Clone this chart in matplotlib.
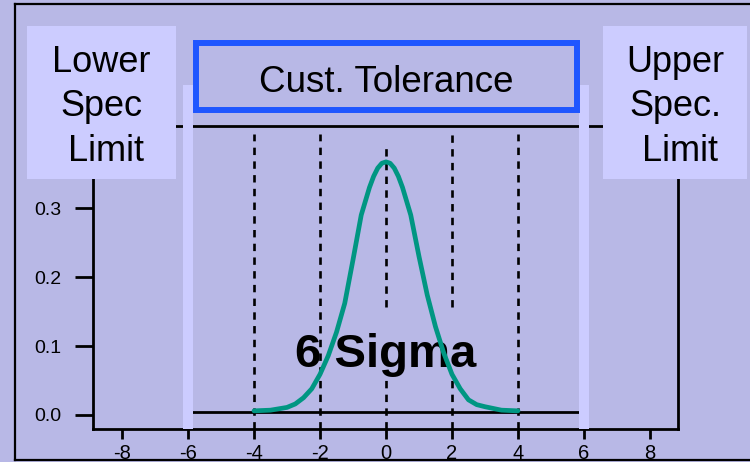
import matplotlib
matplotlib.use("Agg")
import matplotlib.pyplot as plt
from matplotlib.patches import Rectangle
from matplotlib.lines import Line2D

# curve
curve_x = [-4.0, -3.5, -3.0, -2.75, -2.5, -2.25, -2.0, -1.75, -1.5, -1.25, -1.0,
           -0.75, -0.5, -0.375, -0.25, -0.125, 0.0, 0.125, 0.25, 0.375, 0.5, 0.75,
           1.0, 1.25, 1.5, 1.75, 2.0, 2.25, 2.5, 2.75, 3.0, 3.5, 4.0]
curve_y = [0.006, 0.007, 0.011, 0.016, 0.025, 0.038, 0.059, 0.086, 0.120, 0.162, 0.225,
           0.290, 0.330, 0.346, 0.358, 0.365, 0.367, 0.365, 0.358, 0.346, 0.330, 0.290,
           0.230, 0.174, 0.128, 0.090, 0.059, 0.038, 0.022, 0.015, 0.012, 0.007, 0.006]

sigma_x = [-4, -2, 2, 4]       # dashed sigma lines
center_x = 0                   # dashed line at the mean
spec_x = [-6, 6]               # spec limits (light strips)
xticks = [-8, -6, -4, -2, 0, 2, 4, 6, 8]
yticks = [0.0, 0.1, 0.2, 0.3]

lower_lines = ["Lower", "Spec", " Limit"]
upper_lines = ["Upper", "Spec.", " Limit"]

BG = "#b8b8e6"
LIGHT = "#ccccff"
TEAL = "#009682"
BLUE = "#1f56ff"
DASH = (0, (2.8, 2.4))
DLW = 1.9

plt.rcParams["font.family"] = ["Liberation Sans", "DejaVu Sans"]
plt.rcParams["axes.unicode_minus"] = False

W, H = 750, 462
fig = plt.figure(figsize=(7.5, 4.62), dpi=100, facecolor=BG)
ax = fig.add_axes([93 / W, 1 - 429 / H, 585 / W, 303 / H], facecolor=BG)

ymin, ymax = -0.0203, 0.419
ax.set_xlim(-8.88, 8.85)
ax.set_ylim(ymin, ymax)

# dashed sigma lines (the ones at 0 and +2 are broken around the label)
for xv in sigma_x:
    if xv == 2:
        ax.plot([xv, xv], [ymin, 0.055], color="black", lw=DLW, ls=DASH, zorder=2)
        ax.plot([xv, xv], [0.156, 0.408], color="black", lw=DLW, ls=DASH, zorder=2)
    else:
        ax.plot([xv, xv], [ymin, 0.408], color="black", lw=DLW, ls=DASH, zorder=2)
ax.plot([center_x, center_x], [ymin, 0.055], color="black", lw=DLW, ls=DASH, zorder=2)
ax.plot([center_x, center_x], [0.156, 0.388], color="black", lw=DLW, ls=DASH, zorder=2)

# baseline between the spec limits
ax.plot([spec_x[0] + 0.15, spec_x[1] - 0.05], [0.005, 0.005], color="black", lw=2, zorder=2)

# light strips at the spec limits, reaching above the axes
for xv in spec_x:
    ax.axvspan(xv - 0.15, xv + 0.15, ymin=0, ymax=(429 - 85) / 303,
               color=LIGHT, lw=0, zorder=3, clip_on=False)

ax.text(0, 0.0696, "6 Sigma", ha="center", va="baseline", fontsize=34,
        fontweight="bold", zorder=4)
ax.plot(curve_x, curve_y, color=TEAL, lw=3.4, solid_capstyle="round",
        solid_joinstyle="round", zorder=5)

ax.set_xticks(xticks)
ax.set_yticks(yticks)
ax.set_yticklabels([f"{v:.1f}" for v in yticks])
ax.tick_params(axis="x", direction="out", length=7, width=2, labelsize=14.5, pad=4)
ax.tick_params(axis="y", direction="out", length=13, width=2, labelsize=14, pad=10)
for s in ax.spines.values():
    s.set_linewidth(2)

# outer frame
fig.add_artist(Line2D([15 / W, 15 / W], [1 - 4 / H, 1 - 460 / H], color="black", lw=1.6))
fig.add_artist(Line2D([15 / W, 1.0], [1 - 4 / H, 1 - 4 / H], color="black", lw=1.6))
fig.add_artist(Line2D([15 / W, 1.0], [1 - 460 / H, 1 - 460 / H], color="black", lw=1.6))

# spec limit boxes
fig.add_artist(Rectangle((27 / W, 1 - 179 / H), 149 / W, 153 / H, facecolor=LIGHT,
                         edgecolor="none", zorder=5))
fig.add_artist(Rectangle((603 / W, 1 - 179 / H), 144 / W, 153 / H, facecolor=LIGHT,
                         edgecolor="none", zorder=5))
baselines = [72, 116, 161]
for line, by in zip(lower_lines, baselines):
    fig.text(101.5 / W, 1 - by / H, line, ha="center", va="baseline", fontsize=26, zorder=6)
for line, by in zip(upper_lines, baselines):
    fig.text(675 / W, 1 - by / H, line, ha="center", va="baseline", fontsize=26, zorder=6)

# customer tolerance box
fig.add_artist(Rectangle((196 / W, 1 - 110 / H), 381 / W, 67 / H, facecolor="none",
                         edgecolor=BLUE, lw=4.3, zorder=5))
fig.text(386.5 / W, 1 - 92 / H, "Cust. Tolerance", ha="center", va="baseline",
         fontsize=26.5, zorder=6)

fig.savefig("out.png", dpi=100, facecolor=BG)
